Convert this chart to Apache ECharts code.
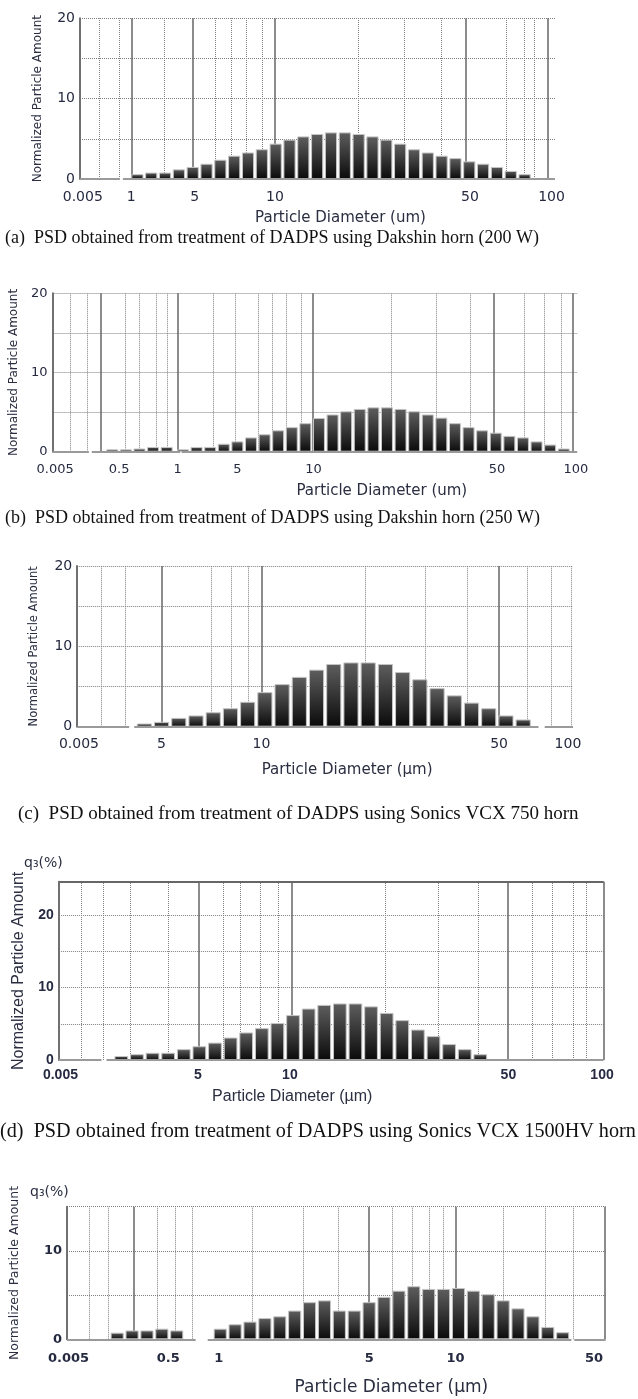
<!DOCTYPE html>
<html>
<head>
<meta charset="utf-8">
<title>PSD of DADPS</title>
<script src="https://cdn.jsdelivr.net/npm/echarts@6/dist/echarts.min.js"></script>
<style>
  html, body { margin: 0; padding: 0; background: #fff; }
  #chart { width: 638px; height: 1399px; }
</style>
</head>
<body>
<div id="chart"></div>
<script>
// x positions are in "bin slots" along each (broken) diameter axis; bar k sits at start + k

// (a) Dakshin horn 200 W
var aStart = 4.15;
var aValues = [0.6, 0.8, 0.8, 1.2, 1.5, 1.9, 2.4, 2.9, 3.3, 3.7, 4.4, 4.9, 5.3, 5.6, 5.8, 5.8, 5.6, 5.3, 4.9, 4.4, 3.7, 3.3, 2.9, 2.6, 2.2, 1.9, 1.5, 1.0, 0.6];
var aTickPos = [0.2, 3.7, 8.3, 14.1, 28.2, 34.1];
var aTickText = ['0.005', '1', '5', '10', '50', '100'];
var aSolid = [3.76, 8.18, 14.06, 27.88, 33.82];
var aDotted = [1.41, 2.82, 6.06, 9.79, 10.91, 12.0, 13.18, 20.09, 23.47, 26.12, 30.82, 32.15, 32.88];
var aBase = [[0, 2.88], [3.1, 34.35]];

// (b) Dakshin horn 250 W
var bStart1 = 4.4;
var bValues1 = [0.3, 0.3, 0.4, 0.6, 0.6];
var bStart2 = 9.6;
var bValues2 = [0.3, 0.6, 0.6, 1.0, 1.3, 1.8, 2.2, 2.7, 3.1, 3.6, 4.25, 4.7, 5.1, 5.4, 5.6, 5.6, 5.4, 5.1, 4.7, 4.3, 3.6, 3.1, 2.7, 2.4, 2.0, 1.8, 1.3, 0.9, 0.4];
var bTickPos = [0.2, 4.9, 9.2, 13.6, 19.2, 32.7, 38.5];
var bTickText = ['0.005', '0.5', '1', '5', '10', '50', '100'];
var bSolid = [3.52, 9.24, 19.13, 32.48, 38.23];
var bDotted = [1.28, 2.59, 5.36, 6.41, 7.6, 8.43, 11.83, 13.47, 15.14, 16.18, 17.22, 18.27, 24.94, 28.25, 30.75, 34.71, 36.2, 37.4];
var bBase = [[0, 2.68], [2.89, 9.39], [9.5, 38.59]];

// (c) Sonics VCX 750
var cStart = 3.9;
var cValues = [0.4, 0.6, 1.1, 1.4, 1.8, 2.3, 3.1, 4.3, 5.3, 6.2, 7.1, 7.8, 8.0, 8.0, 7.8, 6.8, 5.9, 4.8, 3.9, 3.0, 2.3, 1.4, 0.9];
var cTickPos = [0.1, 4.9, 10.7, 24.5, 28.5];
var cTickText = ['0.005', '5', '10', '50', '100'];
var cSolid = [4.91, 10.74, 24.5];
var cDotted = [1.42, 2.79, 7.79, 8.92, 9.92, 16.71, 20.23, 22.66, 26.13, 27.55, 28.68];
var cBase = [[0, 3.02], [3.31, 26.79], [27.15, 28.8]];

// (d) Sonics VCX 1500HV
var dStart = 4.0;
var dValues = [0.55, 0.8, 1.0, 1.0, 1.5, 1.9, 2.4, 3.1, 3.8, 4.4, 5.1, 6.2, 7.1, 7.6, 7.8, 7.8, 7.4, 6.5, 5.5, 4.2, 3.3, 2.2, 1.5, 0.8];
var dTickPos = [0.1, 8.9, 14.8, 28.8, 34.8];
var dTickText = ['0.005', '5', '10', '50', '100'];
var dSolid = [8.98, 14.9, 28.78, 34.9];
var dDotted = [1.43, 2.86, 4.56, 7.03, 10.55, 11.59, 12.89, 14.06, 20.91, 24.3, 26.9, 30.34, 31.64, 32.94, 33.8];
var dBase = [[0, 2.73], [3.05, 34.9]];

// (e) unnamed fifth panel
var eStart1 = 3.37;
var eValues1 = [0.75, 1.0, 1.0, 1.2, 1.0];
var eStart2 = 10.29;
var eValues2 = [1.2, 1.7, 2.0, 2.4, 2.6, 3.25, 4.2, 4.4, 3.25, 3.25, 4.2, 4.8, 5.5, 6.0, 5.7, 5.7, 5.8, 5.5, 5.1, 4.4, 3.5, 2.6, 1.4, 0.8];
var eTickPos = [0.1, 6.8, 10.2, 20.3, 26.1, 35.4];
var eTickText = ['0.005', '0.5', '1', '5', '10', '50'];
var eSolid = [4.45, 20.25, 26.11, 36.1];
var eDotted = [1.48, 2.78, 6.07, 7.29, 8.42, 12.42, 15.87, 18.22, 21.87, 23.22, 24.3, 25.24, 29.29, 32.13, 34.02];
var eBase = [[0, 8.64], [9.45, 33.88], [34.07, 36.18]];

var captions = [
  '(a)  PSD obtained from treatment of DADPS using Dakshin horn (200 W)',
  '(b)  PSD obtained from treatment of DADPS using Dakshin horn (250 W)',
  '(c)  PSD obtained from treatment of DADPS using Sonics VCX 750 horn',
  '(d)  PSD obtained from treatment of DADPS using Sonics VCX 1500HV horn'
];

function bins(start, values) {
  return values.map(function(v, k) { return [start + k, v]; });
}

var panels = [
  { bars: bins(aStart, aValues), tickPos: aTickPos, tickText: aTickText, solid: aSolid, dotted: aDotted, base: aBase,
    yMax: 20, uMax: 34.35, xName: 'Particle Diameter (um)',
    box: { left: 80, top: 18.3, width: 475, height: 160.7 },
    font: 'DejaVu Sans', tickSize: 14, tickWeight: 'normal', margin: 11,
    xNameSize: 15, xNameGap: 32, xShift: 23, yNameSize: 12, yNameGap: 36 },
  { bars: bins(bStart1, bValues1).concat(bins(bStart2, bValues2)), tickPos: bTickPos, tickText: bTickText, solid: bSolid, dotted: bDotted, base: bBase,
    yMax: 20, uMax: 38.59, xName: 'Particle Diameter (um)',
    box: { left: 50.8, top: 293.3, width: 526.4, height: 158.4 },
    font: 'DejaVu Sans', tickSize: 13, tickWeight: 'normal', margin: 11,
    xNameSize: 15, xNameGap: 32, xShift: 67, yNameSize: 12, yNameGap: 26 },
  { bars: bins(cStart, cValues), tickPos: cTickPos, tickText: cTickText, solid: cSolid, dotted: cDotted, base: cBase,
    yMax: 20, uMax: 28.8, xName: 'Particle Diameter (\u00b5m)',
    box: { left: 77.2, top: 566, width: 495.9, height: 160.7 },
    font: 'DejaVu Sans', tickSize: 14, tickWeight: 'normal', margin: 11,
    xNameSize: 15, xNameGap: 36, xShift: 22, yNameSize: 11.5, yNameGap: 37 },
  { bars: bins(dStart, dValues), tickPos: dTickPos, tickText: dTickText, solid: dSolid, dotted: dDotted, base: dBase,
    yMax: 24.6, uMax: 34.9, xName: 'Particle Diameter (\u00b5m)', topBorder: true,
    box: { left: 58.9, top: 881.7, width: 544.7, height: 178.3 },
    font: 'Liberation Sans', tickSize: 14, tickWeight: 'bold', margin: 8,
    xNameSize: 16, xNameGap: 29, xShift: -39, yNameSize: 16, yNameGap: 32 },
  { bars: bins(eStart1, eValues1).concat(bins(eStart2, eValues2)), tickPos: eTickPos, tickText: eTickText, solid: eSolid, dotted: eDotted, base: eBase,
    yMax: 15, uMax: 36.18, xName: 'Particle Diameter (\u00b5m)',
    box: { left: 61, top: 1206.7, width: 544.7, height: 132.6 },
    font: 'DejaVu Sans', tickSize: 13, tickWeight: 'bold', margin: 13,
    xNameSize: 17, xNameGap: 40, xShift: 55, yNameSize: 12.5, yNameGap: 46 }
];

var ink = '#252a40';
var nameInk = '#2a2e40';
var gridGray = '#808080';
var solidGray = '#666';

var grids = [], xAxes = [], yAxes = [], series = [];

panels.forEach(function(p, i) {
  grids.push({ left: p.box.left, top: p.box.top, width: p.box.width, height: p.box.height });

  var labelMap = {};
  p.tickPos.forEach(function(u, j) { labelMap[Math.round(u * 10)] = p.tickText[j]; });

  var pad = p.xShift >= 0 ? [0, 0, 0, 2 * p.xShift] : [0, -2 * p.xShift, 0, 0];

  xAxes.push({
    gridIndex: i,
    type: 'value',
    min: 0,
    max: p.uMax,
    interval: 0.1,
    axisLine: { show: false },
    axisTick: { show: false },
    splitLine: { show: false },
    axisLabel: {
      margin: p.margin,
      color: ink,
      fontFamily: p.font,
      fontSize: p.tickSize,
      fontWeight: p.tickWeight,
      formatter: function(v) { return labelMap[Math.round(v * 10)] || ''; }
    },
    name: p.xName,
    nameLocation: 'middle',
    nameGap: p.xNameGap,
    nameTextStyle: { color: nameInk, fontFamily: p.font, fontSize: p.xNameSize, padding: pad }
  });

  yAxes.push({
    gridIndex: i,
    type: 'value',
    min: 0,
    max: p.yMax,
    interval: 5,
    axisLine: { show: true, lineStyle: { color: '#707070', width: 2 } },
    axisTick: { show: false },
    splitLine: { show: true, showMinLine: false, lineStyle: { color: gridGray, type: 'dotted', width: 1 } },
    axisLabel: {
      margin: 5,
      color: ink,
      fontFamily: p.font,
      fontSize: p.tickSize,
      fontWeight: p.tickWeight,
      formatter: function(v) { return v % 10 === 0 ? String(v) : ''; }
    },
    name: 'Normalized Particle Amount',
    nameLocation: 'middle',
    nameGap: p.yNameGap,
    nameTextStyle: { color: nameInk, fontFamily: p.font, fontSize: p.yNameSize }
  });

  var guides = [];
  p.dotted.forEach(function(u) {
    guides.push({ xAxis: u, lineStyle: { type: 'dotted', color: gridGray, width: 1 } });
  });
  p.solid.forEach(function(u) {
    guides.push({ xAxis: u, lineStyle: { type: 'solid', color: solidGray, width: 1.5 } });
  });
  if (p.topBorder) {
    guides.push({ yAxis: p.yMax, lineStyle: { type: 'solid', color: solidGray, width: 2 } });
  }

  series.push({
    type: 'line',
    xAxisIndex: i,
    yAxisIndex: i,
    data: [],
    silent: true,
    markLine: {
      z: 1,
      silent: true,
      symbol: 'none',
      label: { show: false },
      data: guides
    }
  });

  series.push({
    type: 'bar',
    xAxisIndex: i,
    yAxisIndex: i,
    z: 3,
    barWidth: '88%',
    data: p.bars,
    itemStyle: {
      color: {
        type: 'linear', x: 0, y: 0, x2: 0, y2: 1,
        colorStops: [
          { offset: 0, color: '#5e5e5e' },
          { offset: 1, color: '#0a0a0a' }
        ]
      },
      borderColor: '#c4c4c4',
      borderWidth: 1
    },
    markLine: {
      z: 4,
      silent: true,
      symbol: 'none',
      label: { show: false },
      lineStyle: { type: 'solid', color: '#9a9a9a', width: 2 },
      data: p.base.map(function(s) { return [{ coord: [s[0], 0] }, { coord: [s[1], 0] }]; })
    }
  });
});

var captionStyle = { fontFamily: 'Liberation Serif', fontWeight: 'normal', color: '#111' };
var titles = [
  { text: captions[0], left: 5, top: 229, padding: 0, textStyle: Object.assign({ fontSize: 18 }, captionStyle) },
  { text: captions[1], left: 5, top: 509, padding: 0, textStyle: Object.assign({ fontSize: 18 }, captionStyle) },
  { text: captions[2], left: 18, top: 805, padding: 0, textStyle: Object.assign({ fontSize: 19 }, captionStyle) },
  { text: captions[3], left: 0, top: 1122, padding: 0, textStyle: Object.assign({ fontSize: 20.2 }, captionStyle) },
  { text: 'q\u2083(%)', left: 24, top: 856, padding: 0, textStyle: { fontFamily: 'DejaVu Sans', fontSize: 14, fontWeight: 'normal', color: nameInk } },
  { text: 'q\u2083(%)', left: 30, top: 1185, padding: 0, textStyle: { fontFamily: 'DejaVu Sans', fontSize: 14, fontWeight: 'normal', color: nameInk } }
];

var chart = echarts.init(document.getElementById('chart'));
chart.setOption({
  animation: false,
  backgroundColor: '#fff',
  title: titles,
  grid: grids,
  xAxis: xAxes,
  yAxis: yAxes,
  series: series
});
window.addEventListener('resize', function() { chart.resize(); });
</script>
</body>
</html>
